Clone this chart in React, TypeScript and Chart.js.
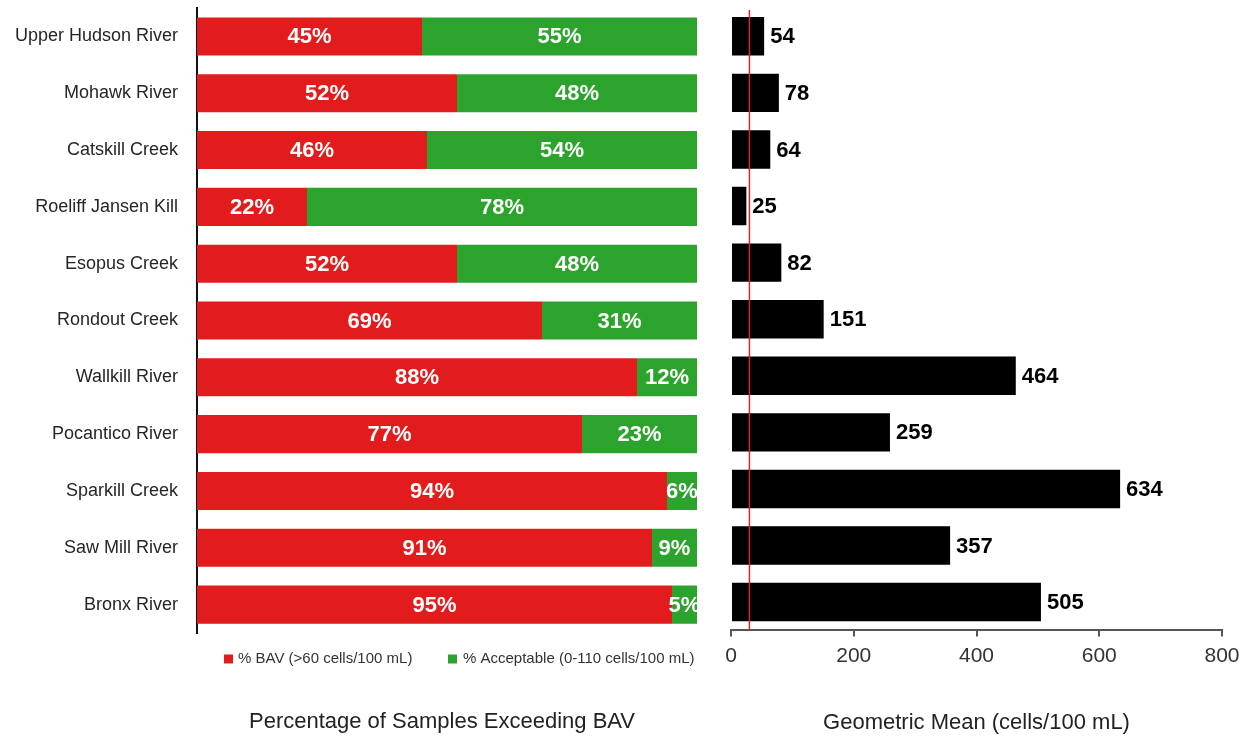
import React, { useEffect, useRef } from "react";
import { Chart, registerables } from "chart.js";

Chart.register(...registerables);

const categories = [
  "Upper Hudson River",
  "Mohawk River",
  "Catskill Creek",
  "Roeliff Jansen Kill",
  "Esopus Creek",
  "Rondout Creek",
  "Wallkill River",
  "Pocantico River",
  "Sparkill Creek",
  "Saw Mill River",
  "Bronx River",
];
const bavPercent = [45, 52, 46, 22, 52, 69, 88, 77, 94, 91, 95];
const acceptablePercent = [55, 48, 54, 78, 48, 31, 12, 23, 6, 9, 5];
const geometricMean = [54, 78, 64, 25, 82, 151, 464, 259, 634, 357, 505];
const referenceValue = 30;
const geoTicks = [0, 200, 400, 600, 800];

const legendLabels = ["% BAV (>60 cells/100 mL)", "% Acceptable (0-110 cells/100 mL)"];
const leftTitle = "Percentage of Samples Exceeding BAV";
const rightTitle = "Geometric Mean (cells/100 mL)";

const FONT = "'Liberation Sans', Arial, sans-serif";
const RED = "#e21c1c";
const GREEN = "#2ca32c";

const leftLabelsPlugin = {
  id: "leftLabels",
  afterDatasetsDraw(chart: any) {
    const ctx = chart.ctx;
    ctx.save();
    ctx.font = `bold 22px ${FONT}`;
    ctx.fillStyle = "#ffffff";
    ctx.textAlign = "center";
    ctx.textBaseline = "middle";
    chart.data.datasets.forEach((ds: any, di: number) => {
      const meta = chart.getDatasetMeta(di);
      meta.data.forEach((el: any, i: number) => {
        const cx = (el.x + el.base) / 2;
        ctx.fillText(ds.data[i] + "%", cx, el.y + 1);
      });
    });
    ctx.restore();
  },
  afterDraw(chart: any) {
    const ctx = chart.ctx;
    ctx.save();
    ctx.font = `15px ${FONT}`;
    ctx.textBaseline = "middle";
    ctx.textAlign = "left";
    const ly = 659;
    ctx.fillStyle = RED;
    ctx.fillRect(224, ly - 4.5, 9, 9);
    ctx.fillStyle = "#333333";
    ctx.fillText(legendLabels[0], 238, ly);
    ctx.fillStyle = GREEN;
    ctx.fillRect(448, ly - 4.5, 9, 9);
    ctx.fillStyle = "#333333";
    ctx.fillText(legendLabels[1], 463, ly);
    ctx.font = `22px ${FONT}`;
    ctx.fillStyle = "#222222";
    ctx.textAlign = "center";
    ctx.fillText(leftTitle, 442, 722);
    ctx.restore();
  },
};

const rightLabelsPlugin = {
  id: "rightLabels",
  afterDatasetsDraw(chart: any) {
    const ctx = chart.ctx;
    ctx.save();
    ctx.font = `bold 22px ${FONT}`;
    ctx.fillStyle = "#000000";
    ctx.textAlign = "left";
    ctx.textBaseline = "middle";
    const meta = chart.getDatasetMeta(0);
    meta.data.forEach((el: any, i: number) => {
      ctx.fillText(String(chart.data.datasets[0].data[i]), el.x + 6, el.y + 1);
    });
    const x = chart.scales.x.getPixelForValue(referenceValue);
    ctx.strokeStyle = "#d42a2a";
    ctx.lineWidth = 1.5;
    ctx.beginPath();
    ctx.moveTo(x, chart.chartArea.top + 2);
    ctx.lineTo(x, chart.chartArea.bottom);
    ctx.stroke();
    ctx.restore();
  },
};

function LeftChart() {
  const ref = useRef<HTMLCanvasElement>(null);
  useEffect(() => {
    const chart = new Chart(ref.current as HTMLCanvasElement, {
      type: "bar",
      data: {
        labels: categories,
        datasets: [
          {
            label: legendLabels[0],
            data: bavPercent,
            backgroundColor: RED,
            categoryPercentage: 0.67,
            barPercentage: 1,
          },
          {
            label: legendLabels[1],
            data: acceptablePercent,
            backgroundColor: GREEN,
            categoryPercentage: 0.67,
            barPercentage: 1,
          },
        ],
      },
      options: {
        indexAxis: "y",
        responsive: false,
        animation: false,
        devicePixelRatio: 1,
        layout: { padding: { left: 0, right: 13, top: 8, bottom: 105 } },
        plugins: { legend: { display: false }, tooltip: { enabled: false } },
        scales: {
          x: { stacked: true, min: 0, max: 100, display: false },
          y: {
            stacked: true,
            grid: { display: false, drawTicks: false },
            border: { display: true, color: "#111111", width: 2 },
            ticks: { font: { family: FONT, size: 18 }, color: "#262626", padding: 19 },
            afterFit: (s: any) => {
              s.width = 197;
              s.paddingTop = 0;
              s.paddingBottom = 0;
            },
          },
        },
      } as any,
      plugins: [leftLabelsPlugin],
    });
    return () => chart.destroy();
  }, []);
  return <canvas ref={ref} width={710} height={738} style={{ position: "absolute", left: 0, top: 0 }} />;
}

function RightChart() {
  const ref = useRef<HTMLCanvasElement>(null);
  useEffect(() => {
    const chart = new Chart(ref.current as HTMLCanvasElement, {
      type: "bar",
      data: {
        labels: categories,
        datasets: [
          {
            label: rightTitle,
            data: geometricMean,
            backgroundColor: "#000000",
            categoryPercentage: 0.68,
            barPercentage: 1,
          },
        ],
      },
      options: {
        indexAxis: "y",
        responsive: false,
        animation: false,
        devicePixelRatio: 1,
        layout: { padding: { left: 21, right: 28, top: 8, bottom: 2 } },
        plugins: { legend: { display: false }, tooltip: { enabled: false } },
        scales: {
          y: { display: false },
          x: {
            min: geoTicks[0],
            max: geoTicks[geoTicks.length - 1],
            afterBuildTicks: (s: any) => {
              s.ticks = geoTicks.map((v) => ({ value: v }));
            },
            grid: { drawOnChartArea: false, drawTicks: true, tickLength: 6, color: "#555555", lineWidth: 2 },
            border: { display: true, color: "#555555", width: 2 },
            ticks: { font: { family: FONT, size: 21 }, color: "#333333", padding: 7, maxRotation: 0 },
            title: {
              display: true,
              text: rightTitle,
              font: { family: FONT, size: 22 },
              color: "#222222",
              padding: { top: 34, bottom: 0 },
            },
          },
        },
      } as any,
      plugins: [rightLabelsPlugin],
    });
    return () => chart.destroy();
  }, []);
  return <canvas ref={ref} width={540} height={738} style={{ position: "absolute", left: 710, top: 0 }} />;
}

export default function App() {
  return (
    <div style={{ position: "absolute", left: 0, top: 0, width: 1250, height: 738, background: "#ffffff" }}>
      <LeftChart />
      <RightChart />
    </div>
  );
}
